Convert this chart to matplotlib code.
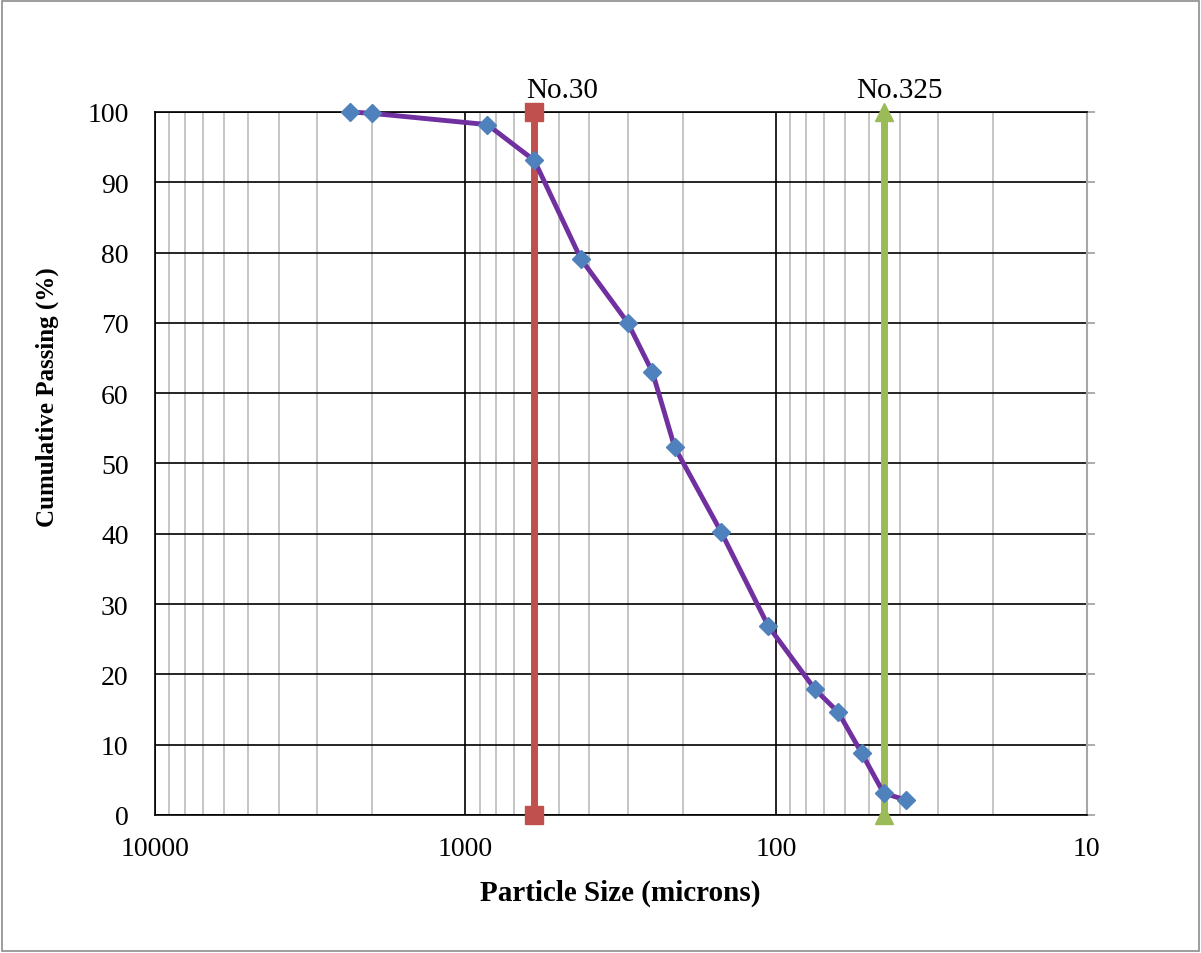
import matplotlib
matplotlib.use("Agg")
import matplotlib.pyplot as plt
from matplotlib.patches import Rectangle
from matplotlib.ticker import FixedLocator, LogLocator, NullFormatter

# Sieve analysis: particle size (microns) vs cumulative passing (%)
sizes = [2360, 2000, 850, 600, 425, 300, 250, 212, 150, 106, 75, 63, 53, 45, 38]
passing = [100.0, 99.8, 98.2, 93.1, 79.1, 70.0, 63.0, 52.3, 40.2, 26.9, 17.9, 14.6, 8.8, 3.1, 2.1]

# Reference sieves
sieve_names = ["No.30", "No.325"]
sieve_sizes = [600, 45]
sieve_range = [0, 100]

x_ticks = [10000, 1000, 100, 10]
x_tick_labels = ["10000", "1000", "100", "10"]
y_ticks = list(range(0, 101, 10))

serif = ["Liberation Serif", "DejaVu Serif"]
plt.rcParams["font.family"] = serif

fig = plt.figure(figsize=(12.01, 9.54), dpi=100)
fig.patches.append(Rectangle((0.002, 0.002), 0.996, 0.996, transform=fig.transFigure,
                             fill=False, edgecolor="#8c8c8c", linewidth=1.2))

ax = fig.add_axes([0.129, 0.1447, 0.7757, 0.7369])
ax.set_xscale("log")
ax.set_xlim(10000, 10)
ax.set_ylim(0, 100)

# Grid: black major lines, light grey minor lines on the log axis
ax.xaxis.set_major_locator(FixedLocator(x_ticks))
ax.xaxis.set_minor_locator(LogLocator(base=10, subs=range(2, 10)))
ax.xaxis.set_minor_formatter(NullFormatter())
ax.set_xticks(x_ticks)
ax.set_xticklabels(x_tick_labels)
ax.set_yticks(y_ticks)
ax.grid(which="minor", axis="x", color="#c0c0c0", linewidth=1.3, zorder=0)
ax.grid(which="major", axis="both", color="black", linewidth=1.2, zorder=1)
ax.tick_params(which="both", length=0, labelsize=20)
ax.tick_params(axis="x", pad=15)
ax.tick_params(axis="y", which="major", pad=13, left=False, right=True,
               length=6, direction="out", color="#a6a6a6", width=1.3)
for s in ax.spines.values():
    s.set_color("black")
    s.set_linewidth(1.2)
ax.spines["right"].set_color("#a6a6a6")
ax.spines["right"].set_linewidth(1.5)

# Sieve reference lines
ax.plot([sieve_sizes[0]] * 2, sieve_range, color="#C0504D", linewidth=5,
        marker="s", markersize=12.5, zorder=3, clip_on=False)
ax.plot([sieve_sizes[1]] * 2, sieve_range, color="#9BBB59", linewidth=5,
        marker="^", markersize=13, zorder=3, clip_on=False)
label_shift = [20, 11]
for name, sz, dx in zip(sieve_names, sieve_sizes, label_shift):
    ax.annotate(name, xy=(sz, 100), xytext=(dx, 11), textcoords="offset points",
                ha="center", va="baseline", fontsize=21)

# Gradation curve
ax.plot(sizes, passing, color="#7030A0", linewidth=3.5, marker="D",
        markersize=9, markerfacecolor="#4F81BD", markeredgecolor="#4F81BD",
        zorder=4, clip_on=False)

ax.set_xlabel("Particle Size (microns)", fontsize=21, fontweight="bold")
ax.set_ylabel("Cumulative Passing (%)", fontsize=18, fontweight="bold")
ax.xaxis.set_label_coords(0.5, -0.1095)
ax.xaxis.label.set_va("center")
ax.yaxis.set_label_coords(-0.116, 0.596)
ax.yaxis.label.set_va("center")

fig.savefig("out.png", dpi=100)
